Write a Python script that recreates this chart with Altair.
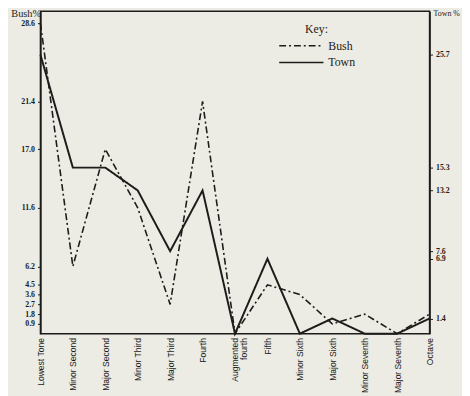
import altair as alt
import pandas as pd

intervals = ["Lowest Tone", "Minor Second", "Major Second", "Minor Third", "Major Third",
             "Fourth", "Augmented|fourth", "Fifth", "Minor Sixth", "Major Sixth",
             "Minor Seventh", "Major Seventh", "Octave"]
bush = [28.6, 6.2, 17.0, 11.6, 2.7, 21.4, 0.0, 4.5, 3.6, 0.9, 1.8, 0.0, 1.8]
town = [25.7, 15.3, 15.3, 13.2, 7.6, 13.2, 0.0, 6.9, 0.0, 1.4, 0.0, 0.0, 1.4]
bush_ticks = [28.6, 21.4, 17.0, 11.6, 6.2, 4.5, 3.6, 2.7, 1.8, 0.9]
town_ticks = [25.7, 15.3, 13.2, 7.6, 6.9, 1.4]

df = pd.DataFrame({
    "interval": intervals * 2,
    "pct": bush + town,
    "series": ["Bush"] * len(bush) + ["Town"] * len(town),
})

INK = "#1c1c1a"
LETTER = "Liberation Sans"
NUMF = "Liberation Serif, serif"
ydom = [0, 29.7]

x = alt.X("interval:N", sort=intervals, scale=alt.Scale(padding=0),
          axis=alt.Axis(title=None, labelAngle=-90, labelAlign="right", labelBaseline="middle",
                        labelPadding=4, ticks=False, domain=False, labelFont=LETTER,
                        labelFontSize=8.7, labelColor=INK, labelLineHeight=9,
                        labelOverlap=False,
                        labelExpr="split(datum.label, '|')"))

dash = alt.StrokeDash("series:N",
                      scale=alt.Scale(domain=["Bush", "Town"], range=[[7, 3, 2, 3], [1, 0]]),
                      legend=alt.Legend(title="Key:", orient="none", legendX=242, legendY=13,
                                        symbolType="stroke", symbolSize=2025, symbolStrokeWidth=1.6,
                                        symbolStrokeColor=INK, clipHeight=14, rowPadding=3,
                                        symbolOffset=0, labelOffset=4, labelAlign="left",
                                        labelFont=NUMF, labelFontSize=12, labelColor=INK,
                                        titleFont=NUMF, titleFontSize=12, titleFontWeight="normal",
                                        titleColor=INK, titleAnchor="middle", titlePadding=3,
                                        padding=0))

def yaxis(vals, orient, title, tx, tfs):
    return alt.Axis(values=vals, format=".1f", orient=orient, grid=False,
                    title=title, titleAngle=0, titleX=tx, titleY=2,
                    titleAlign="center", titleBaseline="middle", titleFont=NUMF,
                    titleFontSize=tfs, titleFontWeight="normal", titleColor=INK,
                    labelFont=NUMF, labelFontSize=8, labelFontWeight="bold",
                    labelColor=INK, tickSize=3, tickColor=INK, domainColor=INK,
                    domainWidth=1.5, labelPadding=3, labelOverlap=False)

left = alt.Chart(df).transform_filter(alt.datum.series == "Bush").mark_line(
    color=INK, strokeWidth=1.6).encode(
    x=x,
    y=alt.Y("pct:Q", scale=alt.Scale(domain=ydom, nice=False, zero=True),
            axis=yaxis(bush_ticks, "left", "Bush%", -15, 10.5)),
    strokeDash=dash,
)

right = alt.Chart(df).transform_filter(alt.datum.series == "Town").mark_line(
    color=INK, strokeWidth=2).encode(
    x=x,
    y=alt.Y("pct:Q", scale=alt.Scale(domain=ydom, nice=False, zero=True),
            axis=yaxis(town_ticks, "right", "Town %", 17, 8)),
    strokeDash=dash,
)

chart = alt.layer(left, right).resolve_scale(y="independent").properties(
    width=396, height=328,
    autosize=alt.AutoSizeParams(type="none"),
    padding={"left": 33, "top": 0, "right": 33, "bottom": 60},
    background="#ecebe4",
).configure_view(stroke=INK, strokeWidth=1.5)

chart.save("out.html", embed_options={"renderer": "svg", "actions": False})
